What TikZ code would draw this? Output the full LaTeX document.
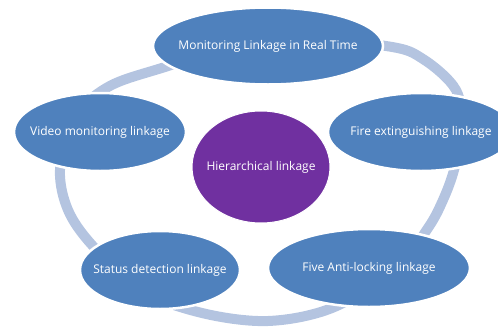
\documentclass[tikz,border=0pt]{standalone}
\usepackage{fontspec}
\setmainfont{Open Sans}
\usetikzlibrary{shapes.geometric}
\definecolor{nodeblue}{RGB}{79,129,189}
\definecolor{hubpurple}{RGB}{112,48,160}
\definecolor{ringblue}{RGB}{180,196,224}
\newcommand{\ctext}[1]{\makebox[0pt][c]{#1}}
\tikzset{
  petal/.style={ellipse, fill=nodeblue, draw=white, line width=2.5pt, inner sep=0pt,
    text=white, font=\fontsize{12}{14}\selectfont},
  hub/.style={ellipse, fill=hubpurple, draw=white, line width=1pt, inner sep=0pt,
    text=white, font=\fontsize{12}{14}\selectfont},
  ring/.style={draw=ringblue, line width=10pt}
}
\begin{document}
\begin{tikzpicture}[x=1pt,y=-1pt]
\useasboundingbox (0,0) rectangle (498,327);
% ring
\draw[ring] plot[smooth cycle, tension=0.55] coordinates {
  (165,67) (270,36) (386,46) (423,59) (456,90) (462,130) (454,170) (443,200) (428,228)
  (395,270) (332,308) (268,321) (202,313) (140,290) (92,245) (68,210) (60,170)
  (72,120) (108,87)};
% nodes
\node[petal, minimum width=230pt, minimum height=77pt] (top) at (268,46) {\ctext{Monitoring Linkage in Real Time}};
\node[petal, minimum width=172pt, minimum height=78pt] (video) at (100,132) {\ctext{Video monitoring linkage}};
\node[petal, minimum width=186pt, minimum height=78pt] (fire) at (421,132) {\ctext{Fire extinguishing linkage}};
\node[petal, minimum width=160pt, minimum height=78pt] (status) at (160,270) {\ctext{Status detection linkage}};
\node[petal, minimum width=202pt, minimum height=78pt] (five) at (369,268) {\ctext{Five Anti-locking linkage}};
\node[hub, minimum width=138pt, minimum height=112pt] (hub) at (261,167) {\ctext{Hierarchical linkage}};
\end{tikzpicture}
\end{document}
